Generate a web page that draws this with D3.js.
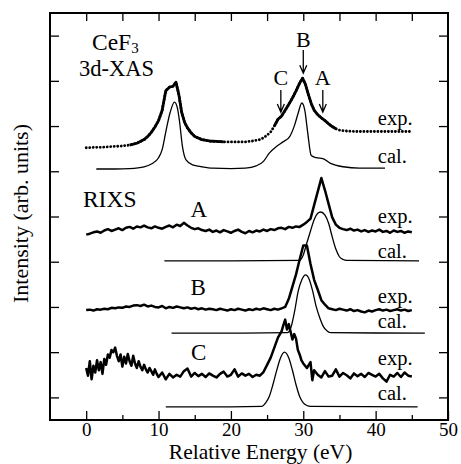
<!DOCTYPE html>
<html>
<head>
<meta charset="utf-8">
<script src="https://cdn.jsdelivr.net/npm/d3@7/dist/d3.min.js"></script>
<style>
  body { margin: 0; background: #fff; }
  text { font-family: "Liberation Serif", "Times New Roman", serif; fill: #000; }
</style>
</head>
<body>
<svg id="drawing_region"></svg>
<script>
// [energy (eV), intensity (arb. units, stacked)]
const xasExp = [[0,6.02],[1,6.03],[2,6.03],[3,6.04],[4,6.05],[5,6.06],[6,6.08],[7,6.12],[8,6.2],[8.5,6.27],
  [9,6.36],[9.5,6.48],[10,6.62],[10.5,6.85],[11,7.28],[11.5,7.36],[12,7.38],[12.4,7.47],[12.8,7.2],[13.2,6.8],
  [13.6,6.58],[14,6.46],[14.5,6.35],[15,6.27],[16,6.2],[17,6.17],[18,6.16],[19,6.15],[20,6.15],[21,6.15],
  [22,6.15],[23,6.17],[24,6.2],[24.5,6.24],[25,6.3],[25.5,6.37],[26,6.5],[26.5,6.65],[27,6.72],[27.5,6.85],
  [28,6.98],[28.5,7.12],[29,7.28],[29.5,7.45],[29.9,7.56],[30.3,7.42],[30.7,7.2],[31.1,7.0],[31.5,6.85],[32,6.75],
  [32.5,6.68],[33,6.62],[33.5,6.55],[34,6.49],[34.5,6.44],[35,6.41],[36,6.39],[37,6.38],[38,6.38],[40,6.38],
  [42,6.38],[44,6.38],[45,6.38]];

const xasCal = [[1.4,5.55],[4,5.55],[6,5.56],[8,5.6],[9,5.66],[10,5.8],[10.5,5.98],[11.1,6.45],[11.6,6.8],[12.2,7.03],
  [12.6,6.9],[12.9,6.6],[13.3,6.05],[13.8,5.75],[14.7,5.64],[16,5.6],[17.5,5.57],[20,5.56],[22,5.57],[23.5,5.62],
  [24.5,5.72],[25.3,5.9],[26.3,6.05],[27.2,6.15],[28.1,6.26],[28.8,6.52],[29.3,6.79],[29.8,7.01],[30.2,6.86],[30.6,6.37],
  [31.1,5.85],[31.8,5.8],[32.7,5.78],[33.7,5.68],[35.5,5.6],[37.8,5.57],[41.3,5.57]];

const rixsAExp = [[0,4.10],[0.5,4.12],[1,4.15],[1.5,4.17],[2,4.14],[2.5,4.19],[3,4.22],[3.5,4.18],[4,4.21],[4.5,4.24],
  [5,4.20],[5.5,4.25],[6,4.27],[6.5,4.23],[7,4.28],[7.5,4.26],[8,4.30],[8.5,4.26],[9,4.24],[9.5,4.28],
  [10,4.25],[10.5,4.23],[11,4.27],[11.5,4.30],[12,4.26],[12.5,4.32],[13,4.29],[13.5,4.36],[14,4.30],[14.5,4.25],
  [15,4.22],[15.5,4.24],[16,4.20],[16.5,4.18],[17,4.21],[17.5,4.16],[18,4.19],[18.5,4.15],[19,4.20],[19.5,4.17],
  [20,4.14],[20.5,4.18],[21,4.21],[21.5,4.16],[22,4.13],[22.5,4.18],[23,4.15],[23.5,4.19],[24,4.17],[24.5,4.21],
  [25,4.18],[25.5,4.22],[26,4.20],[26.5,4.24],[27,4.25],[27.5,4.22],[28,4.27],[28.5,4.25],[29,4.28],[29.5,4.27],
  [30,4.32],[30.5,4.38],[31,4.45],[31.5,4.75],[32,5.05],[32.5,5.35],[33,5.08],[33.5,4.78],[34,4.48],[34.5,4.32],
  [35,4.25],[35.5,4.22],[36,4.20],[36.5,4.23],[37,4.19],[37.5,4.21],[38,4.17],[38.5,4.20],[39,4.16],[39.5,4.19],
  [40,4.17],[40.5,4.21],[41,4.16],[41.5,4.18],[42,4.14],[42.5,4.19],[43,4.16],[43.5,4.18],[44,4.14],[44.5,4.17],[45,4.15]];

const rixsACal = [[10.8,3.52],[20,3.52],[29.5,3.53],[30,3.65],[30.5,3.92],[31,4.18],[31.5,4.43],[32,4.57],[32.4,4.60],
  [33,4.53],[33.5,4.35],[34,4.05],[34.5,3.78],[35,3.61],[35.5,3.55],[36,3.53],[46,3.52]];

const rixsBExp = [[0,2.43],[0.5,2.44],[1,2.42],[1.5,2.45],[2,2.44],[2.5,2.46],[3,2.45],[3.5,2.48],[4,2.47],[4.5,2.49],
  [5,2.48],[5.5,2.51],[6,2.50],[6.5,2.53],[7,2.54],[7.5,2.52],[8,2.55],[8.5,2.51],[9,2.53],[9.5,2.50],
  [10,2.49],[10.5,2.52],[11,2.47],[11.5,2.50],[12,2.48],[12.5,2.51],[13,2.49],[13.5,2.47],[14,2.49],[14.5,2.46],
  [15,2.48],[15.5,2.45],[16,2.47],[16.5,2.44],[17,2.46],[17.5,2.45],[18,2.43],[18.5,2.46],[19,2.44],[19.5,2.42],
  [20,2.45],[20.5,2.43],[21,2.46],[21.5,2.44],[22,2.42],[22.5,2.45],[23,2.43],[23.5,2.46],[24,2.44],[24.5,2.47],
  [25,2.45],[25.5,2.43],[26,2.46],[26.5,2.44],[27,2.47],[27.5,2.50],[28,2.68],[28.5,2.95],[29,3.22],[29.5,3.55],
  [30,3.86],[30.5,3.86],[31,3.45],[31.5,3.10],[32,2.88],[32.5,2.65],[33,2.55],[33.5,2.47],[34,2.45],[34.5,2.43],
  [35,2.46],[35.5,2.44],[36,2.42],[36.5,2.45],[37,2.41],[37.5,2.43],[38,2.40],[38.5,2.38],[39,2.42],[39.5,2.40],
  [40,2.43],[40.5,2.45],[41,2.42],[41.5,2.44],[42,2.41],[42.5,2.43],[43,2.45],[43.5,2.42],[44,2.44],[44.5,2.41],[45,2.43]];

const rixsBCal = [[11.8,1.92],[20,1.92],[27.8,1.93],[28.3,2.05],[28.8,2.40],[29.3,2.85],[29.8,3.10],[30.3,3.21],
  [30.8,3.12],[31.3,2.85],[31.8,2.50],[32.3,2.25],[32.8,2.06],[33.3,1.97],[33.8,1.93],[46.8,1.92]];

const rixsCExp = [[0,1.15],[0.25,0.98],[0.5,1.30],[0.75,0.90],[1,1.20],[1.25,1.05],[1.5,1.32],[1.75,1.10],[2,1.28],[2.25,1.02],
  [2.5,1.35],[2.75,1.22],[3,1.45],[3.25,1.38],[3.5,1.55],[3.75,1.50],[4,1.60],[4.25,1.42],[4.5,1.30],[4.75,1.45],
  [5,1.18],[5.25,1.40],[5.5,1.25],[5.75,1.46],[6,1.30],[6.25,1.20],[6.5,1.42],[6.75,1.25],[7,1.15],[7.25,1.30],
  [7.5,1.18],[7.75,1.10],[8,1.22],[8.25,1.12],[8.5,1.05],[8.75,1.15],[9,1.08],[9.25,1.00],[9.5,1.12],[9.75,1.02],
  [10,0.95],[10.5,1.05],[11,0.90],[11.5,1.02],[12,0.94],[12.5,1.00],[13,0.96],[13.5,1.08],[14,1.14],[14.5,0.96],
  [15,1.04],[15.5,0.97],[16,1.02],[16.5,0.95],[17,1.03],[17.5,0.98],[18,0.94],[18.5,1.02],[19,1.07],[19.5,0.96],
  [20,1.00],[20.5,1.12],[21,0.96],[21.5,1.03],[22,0.98],[22.5,1.02],[23,0.95],[23.5,1.00],[24,0.98],[24.5,1.06],
  [25,1.22],[25.5,1.38],[26,1.60],[26.5,1.82],[27,1.96],[27.25,2.10],[27.5,2.22],[27.75,2.00],[28,2.12],[28.25,1.95],
  [28.5,1.78],[28.75,1.90],[29,1.80],[29.25,1.55],[29.5,1.45],[29.75,1.32],[30,1.25],[30.5,1.15],[31,1.28],[31.25,0.88],
  [31.5,1.10],[32,1.00],[32.5,0.94],[33,1.08],[33.5,0.96],[34,0.98],[34.5,1.12],[35,0.96],[35.5,1.04],[36,0.99],
  [36.5,0.92],[37,1.03],[37.5,0.97],[38,1.02],[38.5,0.95],[39,1.04],[39.5,1.00],[40,0.96],[40.5,1.02],[41,0.92],
  [41.5,0.85],[42,1.00],[42.5,0.96],[43,1.04],[43.5,0.95],[44,1.05],[44.5,0.98],[45,0.96]];

const rixsCCal = [[11,0.29],[20,0.29],[24.3,0.30],[24.8,0.38],[25.3,0.52],[25.8,0.78],[26.3,1.08],[26.8,1.35],[27.4,1.50],
  [28.0,1.37],[28.5,1.10],[29.0,0.78],[29.5,0.52],[30.0,0.38],[30.5,0.32],[31,0.30],[45.8,0.29]];

const xTickMajor = [0, 10, 20, 30, 40, 50];
const xTickMinor = [5, 15, 25, 35, 45];
const xTickTop = [0, 5, 10, 15, 20, 25, 30, 35, 40, 45];
const yTicks = [0.5, 1.5, 2.5, 3.5, 4.5, 5.5, 6.5, 7.5, 8.5];

class SpectraPlot {

  constructor( config ) {
    this.config = config;
    this.init();
  }

  init() {
    let self = this;

    self.svg = d3.select( self.config.parent )
      .attr('width', self.config.width)
      .attr('height', self.config.height);

    self.chart = self.svg.append('g')
      .attr('transform', `translate(${self.config.margin.left}, ${self.config.margin.top})`);

    self.inner_width = self.config.width - self.config.margin.left - self.config.margin.right;
    self.inner_height = self.config.height - self.config.margin.top - self.config.margin.bottom;

    self.xscale = d3.scaleLinear().domain([-5, 50]).range([0, self.inner_width]);
    self.yscale = d3.scaleLinear().domain([0, 9]).range([self.inner_height, 0]);

    self.line = d3.line()
      .x( d => self.xscale(d[0]) )
      .y( d => self.yscale(d[1]) );
  }

  render() {
    let self = this;
    const xs = self.xscale, ys = self.yscale;

    // axes, ticks inward
    const strip = g => g.call( g => g.select('.domain').remove() )
      .call( g => g.selectAll('line').attr('stroke', '#000').attr('stroke-width', 1.3) );

    self.chart.append('g')
      .attr('transform', `translate(0, ${self.inner_height})`)
      .call( d3.axisBottom(xs).tickValues(xTickMajor).tickSize(-9).tickPadding(2) )
      .call( strip )
      .call( g => g.selectAll('text')
        .style('font-family', '"Liberation Serif", serif')
        .attr('font-size', 19) );

    self.chart.append('g')
      .attr('transform', `translate(0, ${self.inner_height})`)
      .call( d3.axisBottom(xs).tickValues(xTickMinor).tickSize(-5).tickFormat('') )
      .call( strip );

    self.chart.append('g')
      .call( d3.axisTop(xs).tickValues(xTickTop).tickSize(-8).tickFormat('') )
      .call( strip );

    self.chart.append('g')
      .call( d3.axisLeft(ys).tickValues(yTicks).tickSize(-9).tickFormat('') )
      .call( strip );

    self.chart.append('g')
      .attr('transform', `translate(${self.inner_width}, 0)`)
      .call( d3.axisRight(ys).tickValues(yTicks).tickSize(-9).tickFormat('') )
      .call( strip );

    self.chart.append('rect')
      .attr('width', self.inner_width)
      .attr('height', self.inner_height)
      .attr('fill', 'none')
      .attr('stroke', '#000')
      .attr('stroke-width', 2);

    // calculated spectra: thin smooth lines
    [xasCal, rixsACal, rixsBCal, rixsCCal].forEach( d => {
      self.chart.append('path')
        .datum(d)
        .attr('fill', 'none')
        .attr('stroke', '#000')
        .attr('stroke-width', 1.3)
        .attr('d', self.line.curve(d3.curveMonotoneX)(d) );
    });
    self.line.curve(d3.curveLinear);

    // XAS experiment: dotted baseline, solid where the peaks rise
    self.chart.append('path')
      .attr('fill', 'none')
      .attr('stroke', '#000')
      .attr('stroke-width', 2.8)
      .attr('stroke-linecap', 'round')
      .attr('stroke-dasharray', '0.1 3.4')
      .attr('d', self.line(xasExp));

    const first = xasExp[0][1], last = xasExp[xasExp.length - 1][1];
    self.chart.append('path')
      .attr('fill', 'none')
      .attr('stroke', '#000')
      .attr('stroke-width', 2.8)
      .attr('stroke-linejoin', 'round')
      .attr('d', d3.line()
        .x( d => xs(d[0]) ).y( d => ys(d[1]) )
        .defined( d => d[1] - (d[0] < 20 ? first : last) > 0.06 )(xasExp) );

    // RIXS experiments: thick noisy lines
    [rixsAExp, rixsBExp, rixsCExp].forEach( d => {
      self.chart.append('path')
        .attr('fill', 'none')
        .attr('stroke', '#000')
        .attr('stroke-width', 2.5)
        .attr('stroke-linejoin', 'round')
        .attr('d', self.line(d));
    });

    // exp./cal. tags at the right
    const tags = [['exp.', 6.52], ['cal.', 5.68], ['exp.', 4.36], ['cal.', 3.58],
                  ['exp.', 2.59], ['cal.', 2.03], ['exp.', 1.22], ['cal.', 0.44]];
    self.chart.selectAll('.tag')
      .data(tags)
      .enter()
      .append('text')
      .attr('x', xs(40.3))
      .attr('y', d => ys(d[1]))
      .attr('font-size', 20.5)
      .text( d => d[0] );

    // panel titles
    const title = self.chart.append('text')
      .attr('x', xs(0.8)).attr('y', ys(8.18)).attr('font-size', 23.5);
    title.append('tspan').text('CeF');
    title.append('tspan').attr('font-size', 15).attr('dy', 3).text('3');

    const labels = [['3d-XAS', -1.0, 7.61, 22.5], ['RIXS', -0.45, 4.71, 23.5],
                    ['A', 14.4, 4.49, 23], ['B', 14.4, 2.76, 23], ['C', 14.5, 1.33, 23]];
    labels.forEach( l => {
      self.chart.append('text')
        .attr('x', xs(l[1])).attr('y', ys(l[2]))
        .attr('font-size', l[3])
        .text(l[0]);
    });

    // arrows marking A, B, C on the XAS spectrum
    const arrows = [['B', 30.0, 8.25, 8.18, 7.67], ['C', 26.9, 7.41, 7.30, 6.81], ['A', 32.7, 7.41, 7.30, 6.81]];
    arrows.forEach( a => {
      const x = xs(a[1]);
      self.chart.append('text')
        .attr('x', x).attr('y', ys(a[2]))
        .attr('text-anchor', 'middle')
        .attr('font-size', 22)
        .text(a[0]);
      const y0 = ys(a[3]), y1 = ys(a[4]);
      self.chart.append('path')
        .attr('fill', 'none')
        .attr('stroke', '#000')
        .attr('stroke-width', 1.3)
        .attr('d', `M${x},${y0}V${y1}M${x - 3.5},${y1 - 8}L${x},${y1}L${x + 3.5},${y1 - 8}`);
    });

    // axis titles
    self.svg.append('text')
      .attr('x', self.config.margin.left + xs(24.1))
      .attr('y', 459)
      .attr('text-anchor', 'middle')
      .attr('font-size', 21.5)
      .text('Relative Energy (eV)');

    self.svg.append('text')
      .attr('transform', `translate(28, 213.5) rotate(-90)`)
      .attr('text-anchor', 'middle')
      .attr('font-size', 22)
      .text('Intensity (arb. units)');
  }
}

const config = {
  parent: '#drawing_region',
  width: 461,
  height: 464,
  margin: {top:13, right:13, bottom:44, left:50}
};

const plot = new SpectraPlot( config );
plot.render();
</script>
</body>
</html>
